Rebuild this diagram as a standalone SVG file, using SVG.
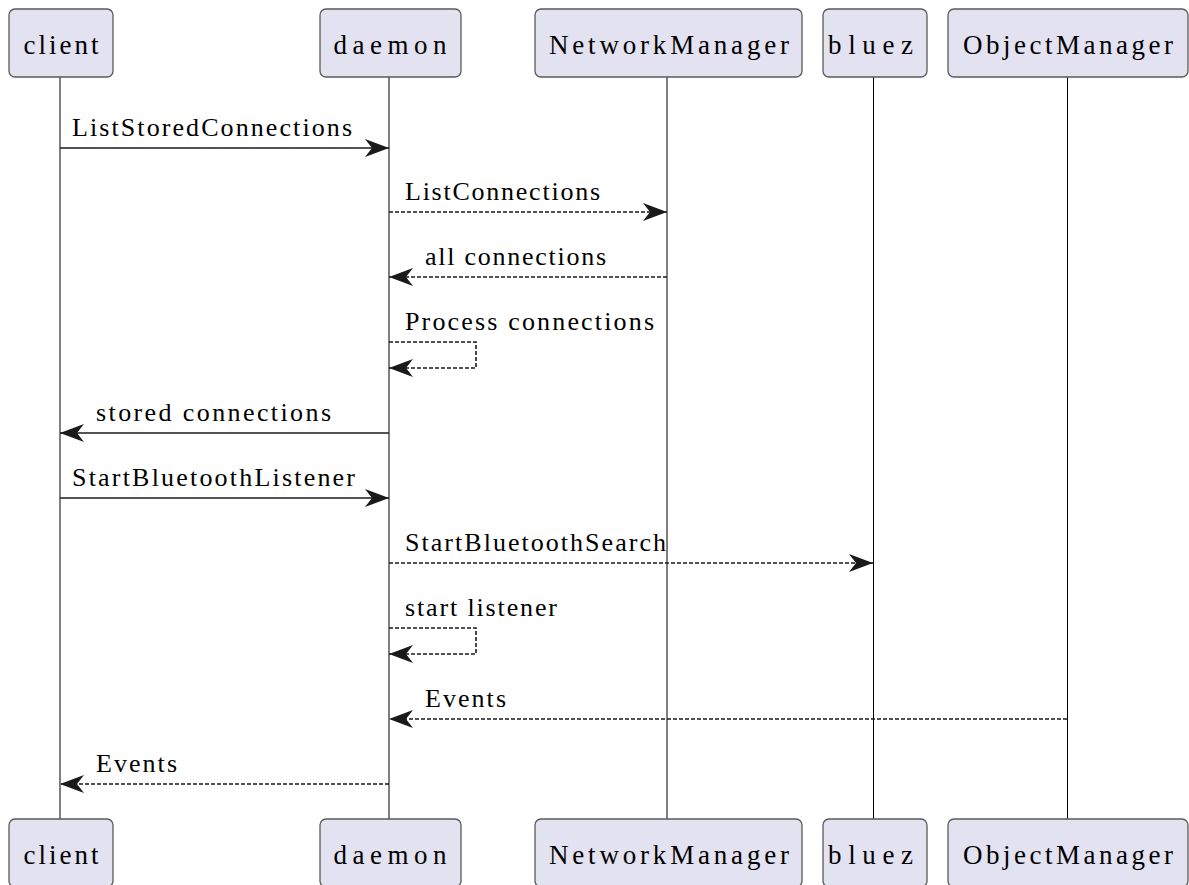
<svg xmlns="http://www.w3.org/2000/svg" width="1189" height="885" viewBox="0 0 1189 885">
<style>
.box{fill:#E2E2F0;stroke:#5a5a5a;stroke-width:1.3}
.pname{font-family:"Liberation Serif","DejaVu Serif",serif;font-size:27px;fill:#000;text-anchor:middle}
.life{stroke:#000;stroke-width:1}
.msg{stroke:#1a1a1a;stroke-width:1.6;fill:none}
.dash{stroke-dasharray:4,2}
.lbl{font-family:"Liberation Serif","DejaVu Serif",serif;font-size:26px;fill:#000}
</style>
<defs>
<marker id="ah" viewBox="0 0 24 20" refX="24" refY="10" markerWidth="24" markerHeight="20" markerUnits="userSpaceOnUse" orient="auto">
<polygon points="0,1 24,10 0,19 7,10" fill="#1a1a1a"/>
</marker>
</defs>
<g id="lifelines">
<line class="life" x1="60" y1="77" x2="60" y2="819"/>
<line class="life" x1="389" y1="77" x2="389" y2="819"/>
<line class="life" x1="667" y1="77" x2="667" y2="819"/>
<line class="life" x1="873.500" y1="77" x2="873.500" y2="819"/>
<line class="life" x1="1067.500" y1="77" x2="1067.500" y2="819"/>
</g>
<g id="client-top"><rect class="box" x="9" y="9" width="104" height="68" rx="6"/><text class="pname" x="61" y="54" textLength="75" lengthAdjust="spacing">client</text></g>
<g id="daemon-top"><rect class="box" x="320" y="9" width="141" height="68" rx="6"/><text class="pname" x="390" y="54" textLength="113" lengthAdjust="spacing">daemon</text></g>
<g id="networkmanager-top"><rect class="box" x="535" y="9" width="267" height="68" rx="6"/><text class="pname" x="669" y="54" textLength="240" lengthAdjust="spacing">NetworkManager</text></g>
<g id="bluez-top"><rect class="box" x="823" y="9" width="104" height="68" rx="6"/><text class="pname" x="870.500" y="54" textLength="85" lengthAdjust="spacing">bluez</text></g>
<g id="objectmanager-top"><rect class="box" x="948" y="9" width="240" height="68" rx="6"/><text class="pname" x="1068" y="54" textLength="210" lengthAdjust="spacing">ObjectManager</text></g>
<g id="client-bottom"><rect class="box" x="9" y="819" width="104" height="68" rx="6"/><text class="pname" x="61" y="864" textLength="75" lengthAdjust="spacing">client</text></g>
<g id="daemon-bottom"><rect class="box" x="320" y="819" width="141" height="68" rx="6"/><text class="pname" x="390" y="864" textLength="113" lengthAdjust="spacing">daemon</text></g>
<g id="networkmanager-bottom"><rect class="box" x="535" y="819" width="267" height="68" rx="6"/><text class="pname" x="669" y="864" textLength="240" lengthAdjust="spacing">NetworkManager</text></g>
<g id="bluez-bottom"><rect class="box" x="823" y="819" width="104" height="68" rx="6"/><text class="pname" x="870.500" y="864" textLength="85" lengthAdjust="spacing">bluez</text></g>
<g id="objectmanager-bottom"><rect class="box" x="948" y="819" width="240" height="68" rx="6"/><text class="pname" x="1068" y="864" textLength="210" lengthAdjust="spacing">ObjectManager</text></g>
<g id="connectors">
<line class="msg" x1="60" y1="148" x2="389" y2="148" marker-end="url(#ah)"/>
<line class="msg dash" x1="389" y1="212" x2="667" y2="212" marker-end="url(#ah)"/>
<line class="msg dash" x1="667" y1="277" x2="389" y2="277" marker-end="url(#ah)"/>
<polyline class="msg dash" points="389,342 476,342 476,368 389,368" marker-end="url(#ah)"/>
<line class="msg" x1="389" y1="433" x2="60" y2="433" marker-end="url(#ah)"/>
<line class="msg" x1="60" y1="498" x2="389" y2="498" marker-end="url(#ah)"/>
<line class="msg dash" x1="389" y1="563" x2="873" y2="563" marker-end="url(#ah)"/>
<polyline class="msg dash" points="389,628 476,628 476,654 389,654" marker-end="url(#ah)"/>
<line class="msg dash" x1="1067" y1="719" x2="389" y2="719" marker-end="url(#ah)"/>
<line class="msg dash" x1="389" y1="784" x2="60" y2="784" marker-end="url(#ah)"/>
</g>
<g id="labels">
<text class="lbl" x="72" y="136" textLength="280" lengthAdjust="spacing">ListStoredConnections</text>
<text class="lbl" x="405" y="200" textLength="195" lengthAdjust="spacing">ListConnections</text>
<text class="lbl" x="425" y="265" textLength="181" lengthAdjust="spacing">all connections</text>
<text class="lbl" x="405" y="330" textLength="249" lengthAdjust="spacing">Process connections</text>
<text class="lbl" x="96" y="421" textLength="235" lengthAdjust="spacing">stored connections</text>
<text class="lbl" x="72" y="486" textLength="283" lengthAdjust="spacing">StartBluetoothListener</text>
<text class="lbl" x="405" y="551" textLength="261" lengthAdjust="spacing">StartBluetoothSearch</text>
<text class="lbl" x="405" y="616" textLength="152" lengthAdjust="spacing">start listener</text>
<text class="lbl" x="425" y="707" textLength="81" lengthAdjust="spacing">Events</text>
<text class="lbl" x="96" y="772" textLength="81" lengthAdjust="spacing">Events</text>
</g>
</svg>
